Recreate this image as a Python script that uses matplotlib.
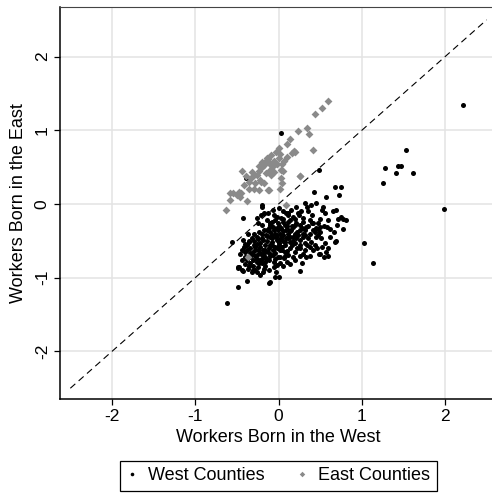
import matplotlib
matplotlib.use('Agg')
import matplotlib.pyplot as plt
from matplotlib.lines import Line2D

plt.rcParams['font.family'] = ['Liberation Sans', 'DejaVu Sans']

# West counties (black dots): x = workers born in the west, y = workers born in the east
west_x = [
    2.21, 1.53, 1.28, 1.41, 1.43, 1.47, 1.62, 1.25, 1.99, 1.03, 1.14, 0.03, -0.39, 0.49,
    -0.62, -0.49, -0.555, -0.43, -0.38, -0.12, 0.26,
    0.684, 0.756, 0.724, 0.568, 0.424, 0.316, 0.344, 0.396, 0.448,
    0.208, 0.156, 0.096, 0.236, 0.276, 0.536, 0.528, 0.556, 0.696, 0.756, 0.816, 0.78,
    -0.204, -0.176, -0.216, -0.124, -0.064, -0.244, -0.2, -0.144, -0.08,
    -0.016, 0.036, 0.136, 0.176, 0.296, 0.376, 0.416, 0.476, 0.504, 0.584, 0.62, 0.664, 0.688, 0.776,
    0.336, 0.256, 0.196, 0.136, 0.096, 0.476, 0.516, 0.556, 0.436, 0.568, 0.488, 0.376, 0.316, 0.336, 0.256,
    -0.364, -0.424, -0.324, -0.264, -0.384, -0.444, -0.404, -0.344, -0.284, -0.224, -0.184, -0.104, -0.044, -0.004, 0.036,
    -0.484, -0.444, -0.364, -0.324, -0.28, -0.224, -0.192, -0.164,
    -0.104, -0.044, 0.008, -0.032, -0.016, 0.056,
    0.064, -0.004, -0.064, -0.112, -0.164, -0.224, -0.264, -0.304, -0.344,
    0.136, 0.076, 0.136, 0.196, 0.016, -0.044, -0.104, -0.164, -0.084, -0.024, 0.036, -0.144, -0.204, -0.064,
    -0.004, 0.076, 0.176, 0.216, 0.296, 0.356, 0.216, 0.316, 0.256, 0.196, 0.116, 0.076,
    -0.264, 0.016, 0.056, -0.032, 0.096, 0.008, -0.064, -0.124, -0.184, -0.204, -0.244, -0.304,
    -0.264, -0.204, -0.164, -0.344, -0.304, -0.244, -0.384, -0.404, -0.444,
    -0.104, -0.044, 0.056, 0.156, 0.116, 0.176, 0.256, 0.296, 0.376, 0.416, 0.456, 0.396,
    -0.2, -0.47, -0.43, -0.485, -0.305, -0.264,
    -0.35, -0.3, -0.25, -0.15, -0.1, -0.05, 0.0, 0.05, 0.1, 0.12, 0.2, 0.25, 0.3, 0.35, 0.4,
    0.45, 0.5, 0.6, 0.65, 0.7, -0.32, -0.28, -0.22, -0.18, -0.12, -0.08, -0.02, 0.04, 0.08,
    0.12, 0.16, 0.22, 0.18, 0.1, 0.02, -0.06, -0.1, -0.14, -0.2, -0.26, -0.38, -0.42, -0.46,
    -0.36, -0.4, -0.18, -0.12, -0.06, 0.14, 0.2, 0.28, 0.3, 0.38, 0.42, 0.46, 0.34, 0.24, 0.28,
    0.32, 0.05, 0.0, 0.12, -0.06, -0.12, -0.18, -0.24, -0.3, 0.5, 0.55, 0.62, 0.6, 0.55, 0.52,
    0.59, 0.5, 0.68, 0.71,
    -0.02, 0.02, 0.06, -0.08, -0.14, 0.0, 0.04, 0.1, -0.04, -0.1, -0.16, -0.22, -0.28, -0.34,
    -0.26, -0.2, -0.14, -0.08, 0.14, 0.18, 0.22, 0.26, 0.08, 0.02, -0.04, -0.3, -0.24, -0.18,
    -0.36, -0.4, 0.32, 0.36, 0.4, 0.44, 0.48, 0.2, 0.16, 0.1, -0.02, -0.1, 0.06, 0.12, 0.26,
]
west_y = [
    1.35, 0.74, 0.485, 0.42, 0.51, 0.51, 0.42, 0.285, -0.07, -0.53, -0.80, 0.97, 0.36, 0.46,
    -1.34, -1.13, -0.51, -0.19, -1.04, -1.07, -0.91,
    0.226, 0.226, 0.122, 0.10, 0.168, 0.018, -0.036, -0.014, 0.01,
    -0.036, -0.08, -0.127, -0.127, -0.10, -0.036, -0.08, -0.127, -0.08, -0.17, -0.217, -0.2,
    -0.014, -0.118, -0.15, -0.127, -0.08, -0.254, -0.28, -0.217, -0.24,
    -0.17, -0.19, -0.217, -0.17, -0.19, -0.217, -0.26, -0.254, -0.308, -0.308, -0.34, -0.376, -0.50, -0.344,
    -0.308, -0.353, -0.40, -0.444, -0.353, -0.42, -0.466, -0.534, -0.557, -0.648, -0.68, -0.58, -0.625, -0.716, -0.706,
    -0.40, -0.49, -0.466, -0.444, -0.557, -0.625, -0.648, -0.60, -0.58, -0.534, -0.49, -0.444, -0.40, -0.353, -0.33,
    -0.85, -0.897, -0.888, -0.92, -0.89, -0.965, -0.92, -0.842,
    -1.055, -0.987, -0.987, -0.92, -0.83, -0.842,
    -0.738, -0.716, -0.693, -0.76, -0.716, -0.76, -0.693, -0.76, -0.716,
    -0.60, -0.557, -0.51, -0.534, -0.625, -0.58, -0.557, -0.557, -0.51, -0.49, -0.466, -0.353, -0.40, -0.308,
    -0.263, -0.285, -0.308, -0.263, -0.40, -0.466, -0.466, -0.534, -0.60, -0.648, -0.693, -0.648,
    -0.195, -0.40, -0.42, -0.444, -0.466, -0.534, -0.625, -0.648, -0.625, -0.693, -0.625, -0.648,
    -0.784, -0.806, -0.784, -0.806, -0.842, -0.86, -0.76, -0.716, -0.76,
    -0.263, -0.217, -0.24, -0.353, -0.40, -0.444, -0.49, -0.444, -0.40, -0.353, -0.33, -0.51,
    -0.04, -0.85, -0.91, -0.87, -0.90, -0.92,
    -0.52, -0.5, -0.48, -0.42, -0.38, -0.35, -0.3, -0.36, -0.3, -0.25, -0.2, -0.15, -0.25, -0.1, -0.15,
    -0.45, -0.2, -0.22, -0.1, -0.28, -0.68, -0.62, -0.58, -0.66, -0.6, -0.55, -0.6, -0.58, -0.52,
    -0.46, -0.56, -0.6, -0.72, -0.78, -0.8, -0.78, -0.7, -0.74, -0.74, -0.74, -0.62, -0.58, -0.68,
    -0.84, -0.82, -0.88, -0.9, -0.85, -0.82, -0.76, -0.8, -0.68, -0.7, -0.62, -0.6, -0.55, -0.42, -0.32,
    -0.35, -0.1, -0.05, -0.15, -0.15, -0.32, -0.35, -0.38, -0.4, -0.38, -0.3, -0.45, -0.6, -0.72, -0.58,
    -0.70, -0.68, -0.52, -0.2,
    -0.42, -0.48, -0.5, -0.46, -0.5, -0.56, -0.62, -0.64, -0.66, -0.68, -0.62, -0.66, -0.7, -0.66,
    -0.54, -0.46, -0.44, -0.42, -0.36, -0.5, -0.38, -0.56, -0.7, -0.72, -0.74, -0.56, -0.8, -0.72,
    -0.5, -0.54, -0.42, -0.3, -0.26, -0.38, -0.34, -0.28, -0.3, -0.34, -0.32, -0.28, -0.2, -0.12, -0.28,
]

# East counties (gray diamonds)
east_x = [
    0.596, 0.523, 0.435, 0.338, 0.37, 0.229, 0.42, 0.133, 0.097, 0.185, 0.2, 0.165, 0.26,
    0.008, -0.03, -0.089, -0.13, -0.16, -0.056, 0.0, 0.04, 0.056, -0.07, -0.197, -0.24,
    -0.32, -0.44, -0.39, -0.29, -0.225, -0.17, -0.35, -0.41, -0.354, -0.29, -0.233, -0.48,
    -0.547, -0.587, -0.467, -0.378, -0.587, -0.628, 0.048, -0.117, 0.024, 0.09, -0.366,
    -0.105, -0.04, 0.108, -0.137, -0.204, -0.233, -0.176, -0.084, -0.024, 0.036, -0.092,
    0.03, -0.336, -0.264, -0.284, -0.216, -0.5, -0.45, -0.125, 0.256, -0.15, -0.06, 0.07,
    0.02, -0.1,
]
east_y = [
    1.40, 1.31, 1.22, 1.03, 0.95, 0.99, 0.73, 0.88, 0.82, 0.72, 0.70, 0.69, 0.38,
    0.76, 0.71, 0.66, 0.61, 0.57, 0.58, 0.63, 0.55, 0.45, 0.51, 0.50, 0.45,
    0.44, 0.45, 0.38, 0.39, 0.33, 0.28, 0.30, 0.26, 0.21, 0.20, 0.19, 0.17,
    0.154, 0.145, 0.10, 0.045, 0.054, -0.08, 0.29, 0.19, 0.21, -0.01, -0.72,
    0.46, 0.55, 0.64, 0.62, 0.575, 0.51, 0.53, 0.51, 0.55, 0.46, 0.39,
    0.35, 0.35, 0.39, 0.28, 0.30, 0.12, 0.15, 0.19, 0.385, 0.42, 0.43, 0.58,
    0.68, 0.55,
]

ticks = [-2, -1, 0, 1, 2]
diag = [-2.5, 2.5]
gray = '#8a8a8a'

fig = plt.figure(figsize=(4.92, 4.96), dpi=100)
ax = fig.add_axes([59.5 / 492, 1 - 399.3 / 496, 438 / 492, 392 / 496])

ax.grid(True, color='#e3e3e3', linewidth=1.1, zorder=0)
ax.set_axisbelow(True)
ax.plot(diag, diag, color='black', linestyle=(0, (6, 4)), linewidth=0.8, zorder=2)
ax.scatter(west_x, west_y, s=13, color='black', marker='o', linewidths=0, zorder=3)
ax.scatter(east_x, east_y, s=16, color=gray, marker='D', linewidths=0, zorder=3)

ax.set_xlim(-2.63, 2.63)
ax.set_ylim(-2.65, 2.67)
ax.set_xticks(ticks)
ax.set_yticks(ticks)
ax.set_xticklabels([str(t) for t in ticks])
ax.set_yticklabels([str(t) for t in ticks])
ax.tick_params(axis='both', direction='out', length=4, width=0.9, labelsize=12.5, pad=3)
ax.tick_params(axis='y', labelrotation=90)
for lab in ax.get_yticklabels():
    lab.set_va('center')

for s in ['left', 'bottom']:
    ax.spines[s].set_linewidth(1.1)
ax.spines['top'].set_linewidth(0.8)
ax.spines['top'].set_color('#444444')
ax.spines['right'].set_visible(False)

ax.set_xlabel('Workers Born in the West', fontsize=13)
ax.set_ylabel('Workers Born in the East', fontsize=13)
ax.xaxis.set_label_coords(0.5, -0.075)
ax.yaxis.set_label_coords(-0.074, 0.5)

handles = [
    Line2D([], [], marker='o', color='black', linestyle='none', markersize=2.6, markeredgewidth=0),
    Line2D([], [], marker='D', color=gray, linestyle='none', markersize=2.8, markeredgewidth=0),
]
leg = fig.legend(handles, ['West Counties', 'East Counties'], loc='center',
                 bbox_to_anchor=(278.5 / 492, 1 - 476 / 496), ncol=2, fontsize=13,
                 frameon=True, fancybox=False, edgecolor='black', framealpha=1,
                 handlelength=0.6, handletextpad=0.6, columnspacing=1.75,
                 borderpad=0.38, borderaxespad=0)
leg.get_frame().set_linewidth(0.9)

fig.savefig('out.png', dpi=100)
